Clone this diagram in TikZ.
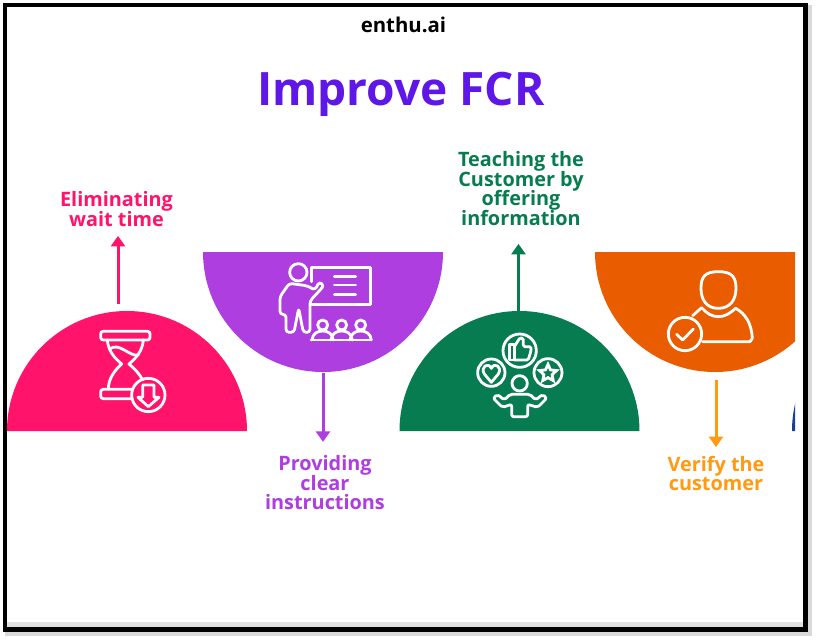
\documentclass[tikz,border=0pt]{standalone}
\usepackage{fontspec}
\setmainfont{Open Sans}
\usetikzlibrary{arrows.meta,calc,shapes.geometric}
\definecolor{pinkc}{HTML}{FF136B}
\definecolor{purplec}{HTML}{AE3EE0}
\definecolor{greenc}{HTML}{077C50}
\definecolor{orangec}{HTML}{E95D00}
\definecolor{ambertext}{HTML}{FF9A12}
\definecolor{titlec}{HTML}{5F17E8}
\definecolor{bluec}{HTML}{1A3F96}
\newcommand{\tightlines}{\lineskiplimit -10pt\relax}
\tikzset{
  icon/.style={draw=white,line width=0.056cm,line cap=round,line join=round},
  flow/.style={line width=0.06cm,-{Triangle[length=0.21cm,width=0.28cm]}},
  lbl/.style={font=\bfseries\fontsize{11.3}{11.1}\selectfont\tightlines,align=center,inner sep=0pt,outer sep=0pt}
}
\begin{document}
\begin{tikzpicture}[x=0.02cm,y=-0.02cm]
\useasboundingbox (0,0) rectangle (816,640);
\fill [white] (0,0) rectangle (816,640);
% frame with its soft edge
\draw [line width=0.08cm,black!15] (810,5) -- (810,634) -- (5,634);
\fill [black!12] (7,622) rectangle (803,627);
\draw [line width=0.09cm,black] (5,5) rectangle (805.5,629.5);
% half discs
\begin{scope}
\clip (7,7) rectangle (795,627);
\fill [pinkc] (7,431) arc (180:360:120) -- cycle;
\fill [purplec] (203,252) arc (180:0:120) -- cycle;
\fill [greenc] (399.5,431) arc (180:360:120) -- cycle;
\fill [orangec] (595,252) arc (180:0:120) -- cycle;
\fill [bluec] (792,431) arc (180:360:120) -- cycle;
\end{scope}
% texts
\node [anchor=base,font=\bfseries\fontsize{11.6}{14}\selectfont] (brand) at (403.5,32) {enthu.ai};
\node [anchor=base,text=titlec,font=\bfseries\fontsize{26.2}{30}\selectfont] (title) at (401,105) {Improve FCR};
\node [lbl,text=pinkc] (waitlbl) at (116.5,209) {Eliminating\\wait time};
\node [lbl,text=purplec] (clearlbl) at (325,483) {Providing\\clear\\instructions};
\node [lbl,text=greenc] (teachlbl) at (521,188.5) {Teaching the\\Customer by\\offering\\information};
\node [lbl,text=ambertext] (verifylbl) at (716,473.5) {Verify the\\customer};
% arrows
\coordinate (waitfoot) at (118,304);
\coordinate (clearfoot) at (323,373);
\coordinate (teachfoot) at (518.5,311);
\coordinate (verifyfoot) at (716,380);
\draw [flow,pinkc,shorten >=0.19cm] (waitfoot) -- (waitfoot |- waitlbl.south);
\draw [flow,purplec,shorten >=0.28cm] (clearfoot) -- (clearfoot |- clearlbl.north);
\draw [flow,greenc,shorten >=0.37cm] (teachfoot) -- (teachfoot |- teachlbl.south);
\draw [flow,ambertext,shorten >=0.18cm] (verifyfoot) -- (verifyfoot |- verifylbl.north);
% hourglass
\begin{scope}[shift={(0,300)},scale=1/3]
\draw [icon,rounded corners=0.05cm] (302,94) rectangle (450,120);
\draw [icon,rounded corners=0.05cm] (395,296) -- (302,296) -- (302,268) -- (395,268);
\draw [icon] (322,120) .. controls (325,155) and (345,175) .. (365,192) .. controls (345,210) and (325,235) .. (325,268);
\draw [icon] (430,120) .. controls (427,155) and (407,175) .. (387,192) .. controls (402,205) and (418,220) .. (428,240);
\draw [icon] (328,147) .. controls (360,125) and (385,170) .. (415,165);
\draw [icon] (445,285) circle (50);
\draw [icon] (428,255) -- (462,255) -- (462,292) -- (477,292) -- (445,320) -- (414,292) -- (428,292) -- cycle;
\end{scope}
% teacher and class
\begin{scope}[shift={(200,245)},scale=1/3]
\draw [icon] (295,82) circle (26);
\draw [icon] (335,110) -- (335,68) -- (512,68) -- (512,178) -- (335,178);
\foreach \ly in {95,120,148} \draw [icon] (403,\ly) -- (467,\ly);
\draw [icon,rounded corners=0.06cm] (320,122) -- (345,135) -- (358,110) -- (372,122) -- (330,168) -- (330,262) -- (310,262) -- (296,190) -- (282,262) -- (258,262) -- (258,208) -- (240,208) -- (240,155) -- (268,115) -- cycle;
\foreach \cx in {368,425,482} {
  \draw [icon] (\cx,240) circle (15);
  \draw [icon] (\cx-32,285) .. controls (\cx-30,265) and (\cx-15,258) .. (\cx,258) .. controls (\cx+15,258) and (\cx+30,265) .. (\cx+32,285);
}
\draw [icon] (333,285) -- (513,285);
\end{scope}
% person with likes
\begin{scope}[shift={(395,305)},scale=1/3]
\draw [icon] (374,137) circle (50);
\draw [icon] (289,203) circle (41);
\draw [icon] (459,203) circle (42);
\draw [icon] (374,235) circle (23);
\draw [icon] (343,118) rectangle (358,165);
\draw [icon,rounded corners=0.03cm] (358,125) -- (375,98) -- (385,100) -- (385,125) -- (408,125) -- (408,138) -- (404,150) -- (400,165) -- (358,165);
\draw [icon] (289,232) -- (268,207) .. controls (255,185) and (280,170) .. (289,190) .. controls (298,170) and (323,185) .. (310,207) -- cycle;
\node [star,star points=5,star point ratio=2.1,draw=white,line width=0.056cm,minimum size=0.36cm,inner sep=0pt] (likestar) at (459,205) {};
\draw [icon,rounded corners=0.04cm] (350,335) -- (350,298) -- (322,307) -- (295,280) -- (307,268) -- (328,285) -- (345,268) -- (405,268) -- (422,285) -- (443,268) -- (455,280) -- (428,307) -- (398,298) -- (398,335) -- cycle;
\end{scope}
% verified user
\begin{scope}[shift={(590,245)},scale=1/3]
\draw [icon] (385,80) .. controls (425,80) and (438,95) .. (438,130) .. controls (438,165) and (420,190) .. (385,190) .. controls (350,190) and (333,165) .. (333,130) .. controls (333,95) and (345,80) .. (385,80);
\draw [icon] (308,212) -- (335,188) .. controls (350,205) and (365,215) .. (385,215) .. controls (405,215) and (420,205) .. (437,190) .. controls (465,205) and (485,235) .. (487,280) -- (480,290) -- (338,290);
\draw [icon] (285,267) circle (50);
\draw [icon] (260,268) -- (278,285) -- (310,252);
\end{scope}
\end{tikzpicture}
\end{document}
